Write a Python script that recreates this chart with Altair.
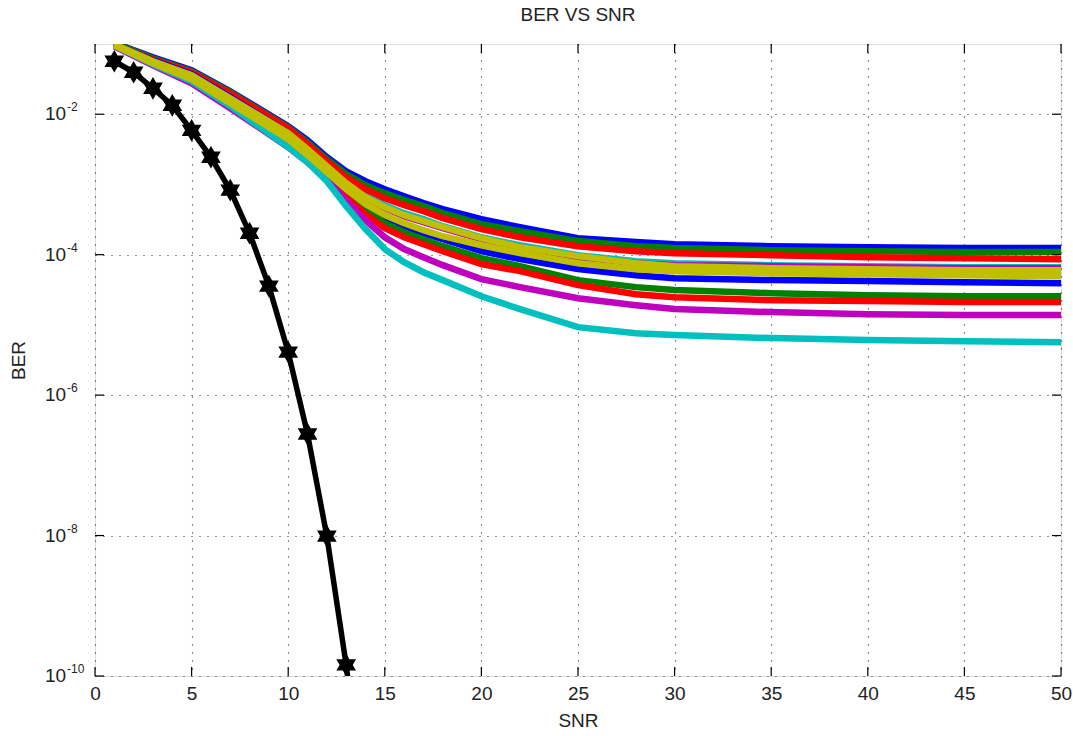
import altair as alt
import pandas as pd

# ---------------- data ----------------
snr_pts = [1, 3, 5, 7, 10, 11, 12, 13, 14, 15, 16, 17, 18, 20, 22, 25, 28, 30, 35, 40, 45, 50]

blue_1 = [0.103, 0.0648, 0.0423, 0.0212, 0.00675, 0.00427, 0.00244, 0.00154, 0.00111, 8.55e-4,
          6.80e-4, 5.41e-4, 4.44e-4, 3.20e-4, 2.46e-4, 1.72e-4, 1.51e-4, 1.41e-4, 1.32e-4,
          1.28e-4, 1.24e-4, 1.24e-4]
green_1 = [0.103, 0.0627, 0.0409, 0.0206, 0.00653, 0.00399, 0.00229, 0.00140, 9.76e-4, 7.51e-4,
           5.97e-4, 4.90e-4, 3.90e-4, 2.72e-4, 2.16e-4, 1.56e-4, 1.32e-4, 1.24e-4, 1.16e-4,
           1.12e-4, 1.09e-4, 1.09e-4]
red_1 = [0.099, 0.0607, 0.0396, 0.0199, 0.00632, 0.00374, 0.00214, 0.00127, 8.55e-4, 6.37e-4,
         5.06e-4, 4.16e-4, 3.31e-4, 2.31e-4, 1.77e-4, 1.32e-4, 1.12e-4, 1.05e-4, 9.84e-5,
         9.21e-5, 8.91e-5, 8.63e-5]
cyan_1 = [0.099, 0.0587, 0.0371, 0.0180, 0.00554, 0.00328, 0.00188, 0.00108, 7.03e-4, 5.06e-4,
          3.90e-4, 3.20e-4, 2.54e-4, 1.77e-4, 1.36e-4, 9.84e-5, 8.08e-5, 7.57e-5, 7.09e-5,
          6.86e-5, 6.64e-5, 6.64e-5]
magenta_1 = [0.099, 0.0568, 0.0359, 0.0169, 0.00519, 0.00307, 0.00176, 0.00101, 6.58e-4, 4.59e-4,
             3.53e-4, 2.90e-4, 2.38e-4, 1.66e-4, 1.28e-4, 9.21e-5, 7.57e-5, 7.09e-5, 6.86e-5,
             6.64e-5, 6.43e-5, 6.43e-5]
yellow_1 = [0.099, 0.0568, 0.0359, 0.0169, 0.00537, 0.00318, 0.00182, 0.00104, 6.58e-4, 4.74e-4,
            3.65e-4, 3.00e-4, 2.46e-4, 1.72e-4, 1.28e-4, 9.53e-5, 7.57e-5, 6.86e-5, 6.43e-5,
            6.22e-5, 6.02e-5, 6.02e-5]
yellow_2 = [0.096, 0.0532, 0.0315, 0.0143, 0.00441, 0.00261, 0.00149, 8.55e-4, 5.24e-4, 3.65e-4,
            2.81e-4, 2.23e-4, 1.83e-4, 1.36e-4, 1.05e-4, 7.57e-5, 6.22e-5, 5.82e-5, 5.45e-5,
            5.28e-5, 5.11e-5, 4.94e-5]
blue_2 = [0.099, 0.0587, 0.0371, 0.0175, 0.00537, 0.00307, 0.00170, 9.14e-4, 5.24e-4, 3.42e-4,
          2.54e-4, 2.02e-4, 1.66e-4, 1.12e-4, 8.63e-5, 6.22e-5, 5.11e-5, 4.63e-5, 4.34e-5,
          4.20e-5, 4.06e-5, 3.93e-5]
green_2 = [0.099, 0.0568, 0.0347, 0.0158, 0.00471, 0.00270, 0.00145, 7.51e-4, 4.30e-4, 2.81e-4,
           2.09e-4, 1.66e-4, 1.32e-4, 8.91e-5, 6.86e-5, 4.34e-5, 3.45e-5, 3.13e-5, 2.83e-5,
           2.65e-5, 2.56e-5, 2.56e-5]
red_2 = [0.096, 0.0550, 0.0336, 0.0153, 0.00441, 0.00244, 0.00131, 6.58e-4, 3.77e-4, 2.38e-4,
         1.77e-4, 1.41e-4, 1.12e-4, 7.33e-5, 5.82e-5, 3.68e-5, 2.74e-5, 2.48e-5, 2.25e-5,
         2.18e-5, 2.11e-5, 2.11e-5]
magenta_2 = [0.093, 0.0498, 0.0276, 0.0122, 0.00339, 0.00207, 0.00119, 5.97e-4, 3.10e-4, 1.77e-4,
             1.20e-4, 9.21e-5, 7.09e-5, 4.48e-5, 3.45e-5, 2.40e-5, 1.91e-5, 1.68e-5, 1.52e-5,
             1.42e-5, 1.38e-5, 1.38e-5]
cyan_2 = [0.096, 0.0515, 0.0295, 0.0130, 0.00339, 0.00207, 0.00111, 4.90e-4, 2.31e-4, 1.20e-4,
          7.82e-5, 5.63e-5, 4.34e-5, 2.56e-5, 1.68e-5, 9.29e-6, 7.63e-6, 7.15e-6, 6.48e-6,
          6.07e-6, 5.87e-6, 5.68e-6]

snr_black = [1, 2, 3, 4, 5, 6, 7, 8, 9, 10, 11, 12, 13, 14]
ber_black = [0.0568, 0.0396, 0.0234, 0.0134, 0.0059, 0.00244, 8.3e-4, 2.02e-4, 3.56e-5,
             4.1e-6, 2.79e-7, 9.8e-9, 1.44e-10, 1.0e-12]

x_ticks = [0, 5, 10, 15, 20, 25, 30, 35, 40, 45, 50]
y_ticks = [1e-2, 1e-4, 1e-6, 1e-8, 1e-10]
y_tick_exps = ["-2", "-4", "-6", "-8", "-10"]

title_text = "BER VS SNR"
x_title = "SNR"
y_title = "BER"

# MATLAB classic colours
C = {"b": "#0000FF", "g": "#008000", "r": "#FF0000",
     "c": "#00BFBF", "m": "#BF00BF", "y": "#BFBF00", "k": "#000000"}

# drawing order (first drawn = bottom)
series = [
    (cyan_1, C["c"]), (magenta_1, C["m"]),
    (blue_1, C["b"]), (green_1, C["g"]), (red_1, C["r"]),
    (blue_2, C["b"]), (green_2, C["g"]), (red_2, C["r"]),
    (magenta_2, C["m"]), (cyan_2, C["c"]),
    (yellow_1, C["y"]), (yellow_2, C["y"]),
]

# ---------------- chart ----------------
W, H = 966, 632
FONT = "Liberation Sans"
TXT = "#222222"

xs = alt.Scale(domain=[0, 50], nice=False, zero=False)
ys = alt.Scale(type="log", domain=[1e-10, 1e-1], nice=False)

grid_style = dict(grid=True, gridColor="#000000", gridDash=[1, 7], gridWidth=1.2, gridOpacity=0.85)
x_axis = alt.Axis(values=x_ticks, tickSize=0, domain=False, labelFlush=False,
                  labelFont=FONT, labelFontSize=19, labelColor=TXT, labelPadding=8,
                  title=x_title, titleFont=FONT, titleFontSize=19, titleFontWeight="normal",
                  titleColor=TXT, titleY=44, titleBaseline="middle", **grid_style)
y_axis = alt.Axis(values=y_ticks, tickSize=0, domain=False, labels=False,
                  title=y_title, titleFont=FONT, titleFontSize=19, titleFontWeight="normal",
                  titleColor=TXT, titleX=-77, titleY=H / 2, titleBaseline="middle",
                  titleAlign="center", titleAngle=270, **grid_style)


def X(field="snr"):
    return alt.X(f"{field}:Q", scale=xs, axis=x_axis)


def Y(field="ber"):
    return alt.Y(f"{field}:Q", scale=ys, axis=y_axis)


layers = []
for vals, col in series:
    df = pd.DataFrame({"snr": snr_pts, "ber": vals})
    layers.append(
        alt.Chart(df).mark_line(color=col, strokeWidth=6.5, clip=True).encode(x=X(), y=Y())
    )

df_k = pd.DataFrame({"snr": snr_black, "ber": ber_black})
hexagram = ("M0,-1 L0.289,-0.5 L0.866,-0.5 L0.577,0 L0.866,0.5 L0.289,0.5 L0,1 "
            "L-0.289,0.5 L-0.866,0.5 L-0.577,0 L-0.866,-0.5 L-0.289,-0.5 Z")
layers.append(alt.Chart(df_k).mark_line(color=C["k"], strokeWidth=5.5, clip=True)
              .encode(x=X(), y=Y()))
layers.append(alt.Chart(df_k).mark_point(shape=hexagram, filled=True, size=280, color=C["k"],
                                         opacity=1, clip=True, stroke=C["k"], strokeWidth=3)
              .encode(x=X(), y=Y()))

# inward tick marks (MATLAB style) on all four sides
df_xt = pd.DataFrame({"snr": x_ticks})
df_yt = pd.DataFrame({"ber": y_ticks, "base": ["10"] * len(y_ticks), "exp": y_tick_exps})
tick_style = dict(color="#000000", strokeWidth=1.2)
layers += [
    alt.Chart(df_xt).mark_rule(**tick_style).encode(x=X(), y=alt.value(H), y2=alt.value(H - 9)),
    alt.Chart(df_xt).mark_rule(**tick_style).encode(x=X(), y=alt.value(0), y2=alt.value(9)),
    alt.Chart(df_yt).mark_rule(**tick_style).encode(y=Y(), x=alt.value(0), x2=alt.value(9)),
    alt.Chart(df_yt).mark_rule(**tick_style).encode(y=Y(), x=alt.value(W), x2=alt.value(W - 9)),
]

# y tick labels: "10" with a raised exponent
layers += [
    alt.Chart(df_yt).mark_text(font=FONT, fontSize=19, align="left", baseline="middle",
                               color=TXT).encode(y=Y(), x=alt.value(-50), text="base:N"),
    alt.Chart(df_yt).mark_text(font=FONT, fontSize=12, align="left", baseline="middle",
                               color=TXT, dy=-7).encode(y=Y(), x=alt.value(-28), text="exp:N"),
]

chart = alt.layer(*layers).properties(
    width=W, height=H,
    title=alt.TitleParams(title_text, font=FONT, fontSize=19, fontWeight="normal",
                          color=TXT, anchor="middle", offset=18),
    autosize=alt.AutoSizeParams(type="none"),
    padding={"left": 95, "top": 44, "right": 12, "bottom": 60},
).configure_view(stroke="#000000", strokeWidth=1.2).configure(background="white")

chart.save("out.html", embed_options={"renderer": "svg", "actions": False})
